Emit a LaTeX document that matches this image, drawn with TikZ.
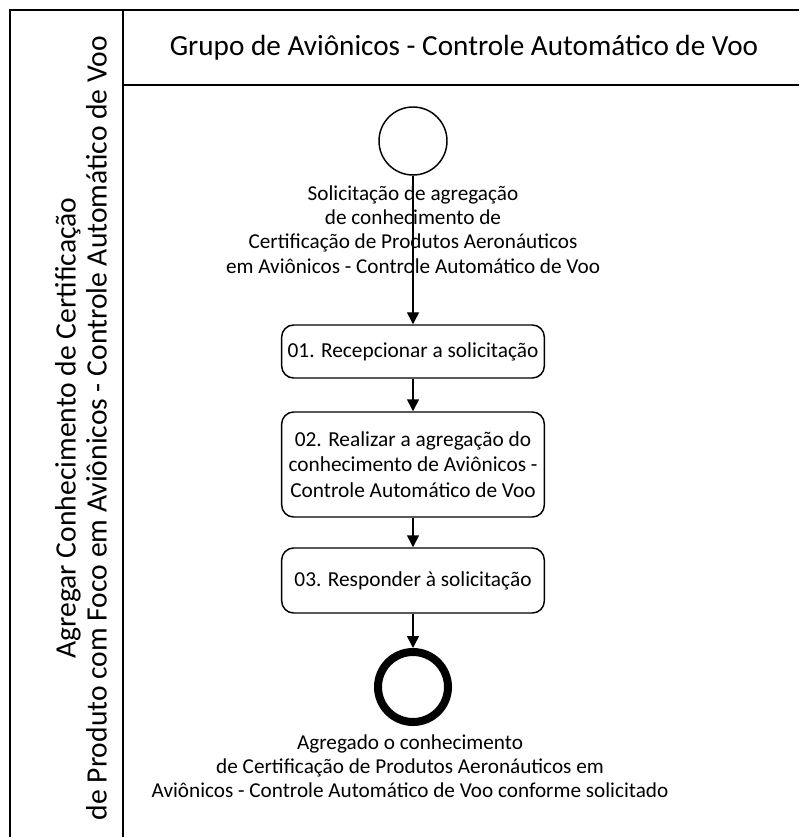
\documentclass[tikz,border=0pt]{standalone}
\usepackage{fontspec}
\setmainfont{Carlito}
\usetikzlibrary{arrows.meta}
\begin{document}
\begin{tikzpicture}[x=0.75pt,y=-0.75pt,
  frame/.style={line width=1.5pt,draw=black},
  stepbox/.style={draw=black,line width=1.1pt,rounded corners=9pt,minimum width=197pt,inner sep=0pt,align=center,font=\fontsize{16}{19}\selectfont},
  lbl/.style={align=center,inner sep=0pt,font=\fontsize{15.9}{18.2}\selectfont},
  flow/.style={line width=1.1pt,-{Triangle[length=9pt,width=9pt]}}
]
\useasboundingbox (0,0) rectangle (799,837);
% swimlane frame
\draw[frame] (10,837) -- (10,10) -- (799,10);
\draw[frame] (123,10) -- (123,837);
\draw[frame] (123,85) -- (799,85);
\node[inner sep=0pt,font=\fontsize{21.9}{25}\selectfont] (hdr) at (464,48) {Grupo de Aviônicos - Controle Automático de Voo};
\node[inner sep=0pt,rotate=90,align=center,font=\fontsize{22.2}{23.3}\selectfont] (lane) at (81,428)
  {Agregar Conhecimento de Certificação\\de Produto com Foco em Aviônicos - Controle Automático de Voo};
% flow
\node[circle,draw=black,line width=1.1pt,minimum size=51pt,inner sep=0pt] (start) at (413,141) {};
\node[lbl] (startlbl) at (413,229.5) {Solicitação de agregação\\de conhecimento de\\Certificação de Produtos Aeronáuticos\\em Aviônicos - Controle Automático de Voo};
\node[stepbox,minimum height=39.75pt] (s1) at (413,351.5) {01. Recepcionar a solicitação};
\node[stepbox,minimum height=78.75pt] (s2) at (413,464.5) {02. Realizar a agregação do\\conhecimento de Aviônicos -\\Controle Automático de Voo};
\node[stepbox,minimum height=48.75pt] (s3) at (413,580.5) {03. Responder à solicitação};
\node[circle,draw=black,line width=6pt,minimum size=52.5pt,inner sep=0pt] (end) at (413,687) {};
\node[lbl] (endlbl) at (410,766) {Agregado o conhecimento\\de Certificação de Produtos Aeronáuticos em\\Aviônicos - Controle Automático de Voo conforme solicitado};
\draw[flow] (start) -- (s1);
\draw[flow] (s1) -- (s2);
\draw[flow] (s2) -- (s3);
\draw[flow] (s3) -- (end);
\end{tikzpicture}
\end{document}
